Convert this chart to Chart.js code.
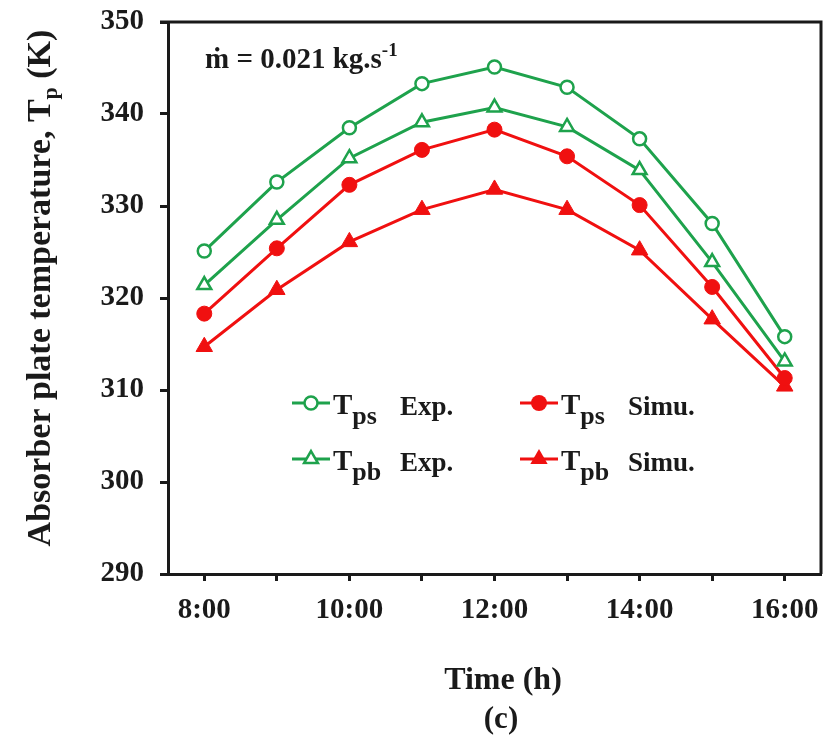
<!DOCTYPE html>
<html>
<head>
<meta charset="utf-8">
<script src="https://cdn.jsdelivr.net/npm/chart.js@4/dist/chart.umd.min.js"></script>
<style>
  html, body { margin: 0; padding: 0; background: #fff; }
  #wrap { width: 824px; height: 749px; }
</style>
</head>
<body>
<div id="wrap"><canvas id="chart-tp" width="824" height="749"></canvas></div>
<script>
// ---------- data ----------
const HOURS = ['8:00', '9:00', '10:00', '11:00', '12:00', '13:00', '14:00', '15:00', '16:00'];
const TPS_EXP = [325.1, 332.6, 338.5, 343.3, 345.1, 342.9, 337.3, 328.1, 315.8];
const TPB_EXP = [321.4, 328.5, 335.2, 339.1, 340.7, 338.6, 333.9, 323.9, 313.1];
const TPS_SIM = [318.3, 325.4, 332.3, 336.1, 338.3, 335.4, 330.1, 321.2, 311.3];
const TPB_SIM = [314.7, 320.9, 326.1, 329.6, 331.8, 329.6, 325.2, 317.7, 310.4];
const Y_MIN = 290, Y_MAX = 350, Y_STEP = 10;

const GREEN = '#1ea24c';
const RED = '#f01010';
const INK = '#1a1a1a';
const SERIF = "'Liberation Serif', 'Times New Roman', 'DejaVu Serif', serif";

// ---------- text helpers ----------
// runs: [{ t, size, dy }] drawn left to right from x on baseline y
function runsWidth(ctx, runs) {
  return runs.reduce((w, r) => {
    ctx.font = `bold ${r.size}px ${SERIF}`;
    return w + ctx.measureText(r.t).width;
  }, 0);
}
function drawRuns(ctx, runs, x, y) {
  ctx.textAlign = 'left';
  ctx.textBaseline = 'alphabetic';
  runs.forEach(r => {
    ctx.font = `bold ${r.size}px ${SERIF}`;
    ctx.fillText(r.t, x, y + (r.dy || 0));
    x += ctx.measureText(r.t).width;
  });
  return x;
}

function legendMarker(ctx, style, color, filled, cx, cy) {
  ctx.save();
  ctx.strokeStyle = color;
  ctx.fillStyle = color;
  ctx.lineWidth = 3;
  ctx.beginPath();
  ctx.moveTo(cx - 19, cy);
  ctx.lineTo(cx + 19, cy);
  ctx.stroke();
  ctx.beginPath();
  if (style === 'circle') {
    ctx.arc(cx, cy, filled ? 8 : 6.5, 0, Math.PI * 2);
  } else {
    const r = filled ? 10 : 8;
    const edge = 3 * r / Math.sqrt(3);
    const h = edge * Math.sqrt(3) / 2;
    ctx.moveTo(cx, cy - r);
    ctx.lineTo(cx + edge / 2, cy - r + h);
    ctx.lineTo(cx - edge / 2, cy - r + h);
    ctx.closePath();
  }
  if (filled) {
    ctx.fill();
  } else {
    ctx.fillStyle = '#fff';
    ctx.fill();
    ctx.lineWidth = 2.5;
    ctx.stroke();
  }
  ctx.restore();
}

const decorPlugin = {
  id: 'decor',
  afterDraw(chart) {
    const ctx = chart.ctx;
    const a = chart.chartArea;
    ctx.save();

    // top and right frame
    ctx.strokeStyle = INK;
    ctx.lineWidth = 3;
    ctx.beginPath();
    ctx.moveTo(a.left - 8, a.top);
    ctx.lineTo(a.right, a.top);
    ctx.lineTo(a.right, a.bottom);
    ctx.stroke();

    ctx.fillStyle = INK;

    // mass flow note
    const note = [
      { t: '\u1E41 = 0.021 kg.s', size: 29 },
      { t: '-1', size: 19, dy: -12 }
    ];
    drawRuns(ctx, note, 205, 68);

    // axis titles
    const xt = [{ t: 'Time (h)', size: 32 }];
    drawRuns(ctx, xt, 503 - runsWidth(ctx, xt) / 2, 689);
    const cap = [{ t: '(c)', size: 31 }];
    drawRuns(ctx, cap, 501 - runsWidth(ctx, cap) / 2, 728);

    const yt = [
      { t: 'Absorber plate temperature, T', size: 34 },
      { t: 'p', size: 22, dy: 7 },
      { t: ' (K)', size: 34 }
    ];
    ctx.save();
    ctx.translate(50, 288);
    ctx.rotate(-Math.PI / 2);
    drawRuns(ctx, yt, -runsWidth(ctx, yt) / 2, 0);
    ctx.restore();

    // legend
    const rows = [
      { x: 311, y: 403, style: 'circle', color: GREEN, filled: false, sub: 'ps', label: 'Exp.', lx: 400 },
      { x: 539, y: 403, style: 'circle', color: RED, filled: true, sub: 'ps', label: 'Simu.', lx: 628 },
      { x: 311, y: 459, style: 'triangle', color: GREEN, filled: false, sub: 'pb', label: 'Exp.', lx: 400 },
      { x: 539, y: 459, style: 'triangle', color: RED, filled: true, sub: 'pb', label: 'Simu.', lx: 628 }
    ];
    rows.forEach(r => {
      legendMarker(ctx, r.style, r.color, r.filled, r.x, r.y);
      ctx.fillStyle = INK;
      drawRuns(ctx, [{ t: 'T', size: 29 }, { t: r.sub, size: 26, dy: 10 }], r.x + 22, r.y + 11);
      drawRuns(ctx, [{ t: r.label, size: 27 }], r.lx, r.y + 12);
    });

    ctx.restore();
  }
};

function series(data, color, style, filled, radius) {
  return {
    data,
    borderColor: color,
    borderWidth: 3,
    pointStyle: style,
    pointRadius: radius,
    pointHoverRadius: radius,
    pointBorderWidth: filled ? 1 : 2.5,
    pointBorderColor: color,
    pointBackgroundColor: filled ? color : '#fff',
    tension: 0,
    fill: false
  };
}

const tickFont = { family: SERIF, size: 29, weight: 'bold' };

new Chart(document.getElementById('chart-tp'), {
  type: 'line',
  data: {
    labels: HOURS,
    datasets: [
      series(TPS_EXP, GREEN, 'circle', false, 6.5),
      series(TPB_EXP, GREEN, 'triangle', false, 8),
      series(TPS_SIM, RED, 'circle', true, 7.5),
      series(TPB_SIM, RED, 'triangle', true, 9.5)
    ]
  },
  options: {
    responsive: false,
    animation: false,
    devicePixelRatio: 1,
    layout: { autoPadding: false, padding: { top: 22, right: 3, left: 0, bottom: 0 } },
    plugins: { legend: { display: false }, tooltip: { enabled: false } },
    scales: {
      x: {
        type: 'category',
        offset: true,
        afterFit: s => { s.height = 175; s.paddingLeft = 0; s.paddingRight = 0; },
        grid: { drawOnChartArea: false, offset: false, tickLength: 7, tickWidth: 3, tickColor: INK },
        border: { display: true, width: 3, color: INK },
        ticks: {
          autoSkip: false,
          maxRotation: 0,
          padding: 12,
          color: INK,
          font: tickFont,
          callback: (v, i) => (i % 2 === 0 ? HOURS[i] : '')
        }
      },
      y: {
        min: Y_MIN,
        max: Y_MAX,
        afterFit: s => { s.width = 168; s.paddingTop = 0; s.paddingBottom = 0; },
        grid: { drawOnChartArea: false, tickLength: 8, tickWidth: 3, tickColor: INK },
        border: { display: true, width: 3, color: INK },
        ticks: { stepSize: Y_STEP, padding: 16, color: INK, font: tickFont }
      }
    }
  },
  plugins: [decorPlugin]
});
</script>
</body>
</html>
